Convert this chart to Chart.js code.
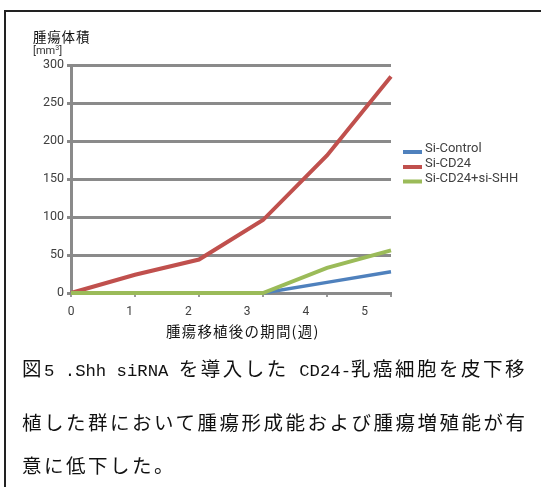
<!DOCTYPE html>
<html><head><meta charset="utf-8">
<script src="https://cdn.jsdelivr.net/npm/chart.js@4.4.1/dist/chart.umd.min.js"></script>
<style>
html,body{margin:0;padding:0;background:#fff;width:541px;height:487px;overflow:hidden;position:relative;}
#frame{position:absolute;left:4px;top:10px;width:560px;height:500px;border-left:2.5px solid #222;border-top:2px solid #222;}
canvas{position:absolute;left:0;top:0;}
.t{position:absolute;font-family:"Noto Sans CJK JP",sans-serif;color:#111;white-space:nowrap;}
#ytitle{left:33px;top:29px;font-size:13.5px;line-height:15px;letter-spacing:0.8px;}
#yunit{left:33px;top:42px;font-size:11px;line-height:12px;color:#333;font-family:"Roboto",sans-serif;}
#yunit sup{font-size:7px;vertical-align:4px;}
#xtitle{left:166px;top:322px;font-size:14.5px;line-height:18px;letter-spacing:1.2px;}
.cap{position:absolute;left:22px;font-family:"Noto Sans CJK JP",sans-serif;font-size:19.5px;letter-spacing:2.5px;color:#111;white-space:pre;line-height:26px;}
.cap .m{font-family:"Liberation Mono",monospace;font-size:17.3px;letter-spacing:0px;}
</style></head>
<body>
<div id="frame"></div>
<canvas id="c" width="541" height="487"></canvas>
<div class="t" id="ytitle">腫瘍体積</div>
<div class="t" id="yunit">[mm<sup>3</sup>]</div>
<div class="t" id="xtitle">腫瘍移植後の期間(週)</div>
<div class="cap" style="top:355px">図<span class="m">5 .Shh siRNA </span>を導入した<span class="m"> CD24-</span>乳癌細胞を皮下移</div>
<div class="cap" style="top:409px">植した群において腫瘍形成能および腫瘍増殖能が有</div>
<div class="cap" style="top:452px">意に低下した。</div>
<script>
const weeks = [0, 1, 2, 3, 4, 5];
const seriesNames = ['Si-Control', 'Si-CD24', 'Si-CD24+si-SHH'];
const siControl = [0, 0, 0, 0, 14, 28];
const siCD24 = [0, 24, 44, 96, 181, 285];
const siCD24SHH = [0, 0, 0, 0, 33, 56];
const yMax = 300;
const yStep = 50;
const xTickLabels = ['0', '1', '2', '3', '4', '5'];

const colors = ['#4F81BD', '#C0504D', '#9BBB59'];
const toPts = arr => weeks.map((w, i) => ({x: w, y: arr[i]}));

const legendPlugin = {
  id: 'customLegend',
  afterDraw(chart) {
    const ctx = chart.ctx;
    const rows = [149, 164, 178.5];
    ctx.save();
    chart.data.datasets.forEach((ds, i) => {
      const y = rows[i];
      ctx.strokeStyle = ds.borderColor;
      ctx.lineWidth = 4;
      ctx.beginPath();
      ctx.moveTo(403, y + 3);
      ctx.lineTo(422, y + 3);
      ctx.stroke();
      ctx.fillStyle = '#404040';
      ctx.font = '13px Roboto';
      ctx.textBaseline = 'middle';
      ctx.textAlign = 'left';
      ctx.fillText(ds.label, 425, y);
    });
    ctx.restore();
  }
};

new Chart(document.getElementById('c'), {
  type: 'line',
  data: {
    datasets: [
      {label: seriesNames[0], data: toPts(siControl), borderColor: colors[0], borderWidth: 3.5, order: 3},
      {label: seriesNames[1], data: toPts(siCD24), borderColor: colors[1], borderWidth: 4, order: 2},
      {label: seriesNames[2], data: toPts(siCD24SHH), borderColor: colors[2], borderWidth: 4, order: 1}
    ].map(d => Object.assign(d, {pointRadius: 0, tension: 0, fill: false, clip: false, xAxisID: 'x', yAxisID: 'y', backgroundColor: d.borderColor}))
  },
  options: {
    responsive: false,
    animation: false,
    devicePixelRatio: 1,
    layout: {padding: {top: 65, right: 150, bottom: 167, left: 0}},
    plugins: {legend: {display: false}, tooltip: {enabled: false}},
    scales: {
      y: {
        min: 0, max: yMax,
        afterFit(s) { s.width = 71; },
        grid: {color: '#8a8a8a', lineWidth: 3, tickLength: 4, drawTicks: true},
        border: {color: '#8a8a8a', width: 3},
        ticks: {stepSize: yStep, color: '#404040', font: {family: 'Roboto', size: 12.5}, padding: 3}
      },
      x: {
        type: 'linear', axis: 'x', position: 'bottom', weight: 0,
        min: weeks[0], max: weeks[weeks.length - 1],
        afterFit(s) { s.height = 4; },
        grid: {drawOnChartArea: false, drawTicks: true, tickLength: 4, color: '#9a9a9a', lineWidth: 2},
        border: {color: '#8a8a8a', width: 3},
        ticks: {stepSize: 1, display: false}
      },
      x2: {
        type: 'linear', axis: 'x', position: 'bottom', weight: 1,
        min: 0, max: 5.45,
        afterFit(s) { s.height = 23; },
        grid: {display: false},
        border: {display: false},
        ticks: {stepSize: 1, includeBounds: false, color: '#404040', font: {family: 'Roboto', size: 12}, padding: 0,
          callback: (v) => xTickLabels[v] !== undefined ? xTickLabels[v] : ''}
      }
    }
  },
  plugins: [legendPlugin]
});
</script>
</body></html>
